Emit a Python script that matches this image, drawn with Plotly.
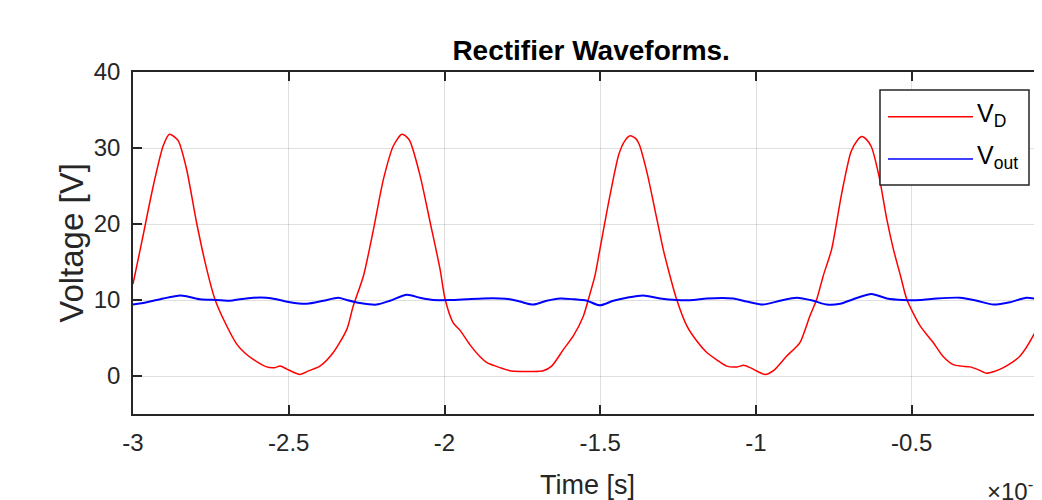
import plotly.graph_objects as go

# ---------------- data (time in units of 1e-3 s) ----------------
vd_time = [-3.000, -2.970, -2.935, -2.903, -2.883, -2.865, -2.854, -2.828, -2.796, -2.763,
           -2.737, -2.710, -2.667, -2.640, -2.614, -2.571, -2.545, -2.528, -2.506, -2.485,
           -2.464, -2.435, -2.400, -2.357, -2.314, -2.293, -2.260, -2.228, -2.196, -2.164,
           -2.137, -2.120, -2.111, -2.078, -2.046, -2.014, -1.998, -1.972, -1.950, -1.918,
           -1.885, -1.865, -1.822, -1.790, -1.758, -1.720, -1.683, -1.656, -1.618, -1.586,
           -1.554, -1.538, -1.517, -1.501, -1.470, -1.440, -1.420, -1.404, -1.385, -1.375,
           -1.350, -1.320, -1.298, -1.275, -1.255, -1.222, -1.190, -1.158, -1.125, -1.094,
           -1.060, -1.040, -1.019, -0.990, -0.971, -0.944, -0.902, -0.859, -0.827, -0.805,
           -0.784, -0.757, -0.725, -0.695, -0.675, -0.660, -0.645, -0.630, -0.605, -0.580,
           -0.559, -0.535, -0.516, -0.473, -0.431, -0.400, -0.367, -0.340, -0.313, -0.285,
           -0.260, -0.235, -0.206, -0.153, -0.110, -0.082, -0.060]
vd_volts = [12.1, 18.0, 25.0, 30.3, 31.8, 31.4, 30.9, 27.2, 20.2, 14.0,
            10.1, 7.5, 4.2, 3.0, 2.2, 1.2, 1.1, 1.3, 0.9, 0.5,
            0.2, 0.7, 1.3, 3.1, 6.1, 9.2, 13.2, 19.3, 25.9, 30.3,
            31.8, 31.4, 30.9, 26.3, 20.2, 14.0, 10.1, 7.0, 6.0, 4.1,
            2.5, 1.8, 1.1, 0.7, 0.6, 0.6, 0.7, 1.3, 3.5, 5.3,
            7.9, 10.1, 13.2, 16.7, 23.5, 29.2, 31.0, 31.6, 31.2, 30.5,
            26.8, 21.0, 16.7, 13.0, 10.1, 6.6, 4.6, 3.1, 2.1, 1.3,
            1.2, 1.4, 1.1, 0.5, 0.2, 0.7, 2.6, 4.4, 7.9, 10.1,
            13.2, 16.7, 24.0, 29.5, 31.0, 31.5, 31.1, 30.2, 26.3, 20.6,
            16.7, 13.0, 10.1, 6.6, 4.4, 2.6, 1.5, 1.3, 1.2, 0.8,
            0.36, 0.6, 1.1, 2.6, 5.3, 7.9, 11.0]

vout_time = [-3.000, -2.956, -2.903, -2.849, -2.828, -2.785, -2.731, -2.689, -2.657, -2.614,
             -2.571, -2.539, -2.496, -2.442, -2.389, -2.341, -2.314, -2.271, -2.218, -2.175,
             -2.121, -2.079, -2.036, -1.982, -1.929, -1.875, -1.822, -1.790, -1.758, -1.715,
             -1.672, -1.629, -1.587, -1.543, -1.501, -1.458, -1.415, -1.362, -1.308, -1.255,
             -1.201, -1.158, -1.073, -1.030, -0.977, -0.923, -0.869, -0.816, -0.773, -0.730,
             -0.688, -0.629, -0.580, -0.527, -0.473, -0.420, -0.345, -0.291, -0.238, -0.185,
             -0.131, -0.082, -0.060]
vout_volts = [9.4, 9.7, 10.2, 10.6, 10.5, 10.1, 10.0, 9.9, 10.1, 10.3,
              10.3, 10.1, 9.7, 9.5, 9.9, 10.3, 10.0, 9.6, 9.4, 9.9,
              10.7, 10.3, 10.0, 10.0, 10.1, 10.2, 10.2, 10.1, 9.8, 9.4,
              9.9, 10.2, 10.1, 9.9, 9.3, 9.9, 10.3, 10.6, 10.2, 10.0,
              10.0, 10.2, 10.2, 9.8, 9.4, 9.9, 10.3, 9.9, 9.4, 9.5,
              10.1, 10.8, 10.2, 10.0, 10.0, 10.2, 10.3, 9.9, 9.4, 9.7,
              10.3, 10.0, 9.9]

x_ticks = [-3, -2.5, -2, -1.5, -1, -0.5]
x_tick_labels = ["-3", "-2.5", "-2", "-1.5", "-1", "-0.5"]
y_ticks = [0, 10, 20, 30, 40]
y_tick_labels = ["0", "10", "20", "30", "40"]

series_names = ["V<sub>D</sub>", "V<sub>out</sub>"]
series_colors = ["#ff0000", "#0000ff"]

# ---------------- figure ----------------
FONT = "Liberation Sans, Arial, Helvetica, sans-serif"
AXC = "#262626"
GRID = "rgba(38,38,38,0.15)"

# the page body adds an 8px offset, so the figure is 8px smaller than the window
fig = go.Figure()
fig.add_trace(go.Scatter(x=vd_time, y=vd_volts, mode="lines", name=series_names[0],
                         line=dict(color=series_colors[0], width=1.5, shape="spline", smoothing=0.7),
                         showlegend=False))
fig.add_trace(go.Scatter(x=vout_time, y=vout_volts, mode="lines", name=series_names[1],
                         line=dict(color=series_colors[1], width=2, shape="spline", smoothing=0.7),
                         showlegend=False))

fig.update_layout(
    width=1034, height=492,
    margin=dict(l=125, r=0, t=64, b=86, autoexpand=False),
    paper_bgcolor="white", plot_bgcolor="white",
    font=dict(family=FONT, color=AXC),
    title=dict(text="<b>Rectifier Waveforms.</b>", xref="paper", x=0.504, xanchor="center",
               yref="container", y=1 - 42 / 492, yanchor="middle",
               font=dict(size=28, color="#000000", family=FONT)),
)

fig.update_xaxes(
    automargin=False,
    range=[-3, -3 + 909 / 311.5],
    tickvals=x_ticks, ticktext=x_tick_labels,
    showgrid=True, gridcolor=GRID, gridwidth=1,
    zeroline=False,
    showline=True, linecolor=AXC, linewidth=1.5, mirror="ticks",
    ticks="inside", ticklen=9, tickcolor=AXC, tickwidth=1.5,
    tickfont=dict(size=24, color=AXC, family=FONT),
    ticklabelstandoff=6,
    title=dict(text="Time [s]", font=dict(size=27, color=AXC, family=FONT), standoff=23),
)
fig.update_yaxes(
    automargin=False,
    range=[-5, 40],
    tickvals=y_ticks, ticktext=y_tick_labels,
    showgrid=True, gridcolor=GRID, gridwidth=1,
    zeroline=False,
    showline=True, linecolor=AXC, linewidth=1.5, mirror=False,
    ticks="inside", ticklen=9, tickcolor=AXC, tickwidth=1.5,
    tickfont=dict(size=24, color=AXC, family=FONT),
    ticklabelstandoff=6,
    title=dict(text="Voltage [V]", font=dict(size=33, color=AXC, family=FONT), standoff=0),
)

# exponent label (partly cut off at the right edge, as in the reference)
fig.add_annotation(text="×10<sup>-3</sup>", xref="paper", yref="paper",
                   x=(985 - 133) / 909, y=-(490 - 414) / 342, xanchor="left", yanchor="middle",
                   showarrow=False, font=dict(size=24, color=AXC, family=FONT))

# ---------------- legend box (MATLAB style) ----------------
def px_x(p):
    return (p - 133) / 909

def px_y(p):
    return (414 - p) / 342

fig.add_shape(type="rect", xref="paper", yref="paper",
              x0=px_x(880), x1=px_x(1029), y0=px_y(185), y1=px_y(90),
              line=dict(color=AXC, width=1.5), fillcolor="white", layer="above")
legend_rows = [116.7, 159.0]
for name, color, row in zip(series_names, series_colors, legend_rows):
    fig.add_shape(type="line", xref="paper", yref="paper",
                  x0=px_x(888), x1=px_x(973), y0=px_y(row), y1=px_y(row),
                  line=dict(color=color, width=1.5), layer="above")
    fig.add_annotation(text=name, xref="paper", yref="paper",
                       x=px_x(975), y=px_y(row - 2), xanchor="left", yanchor="middle",
                       showarrow=False, font=dict(size=25, color="#000000", family=FONT))

fig.write_html("out.html")
